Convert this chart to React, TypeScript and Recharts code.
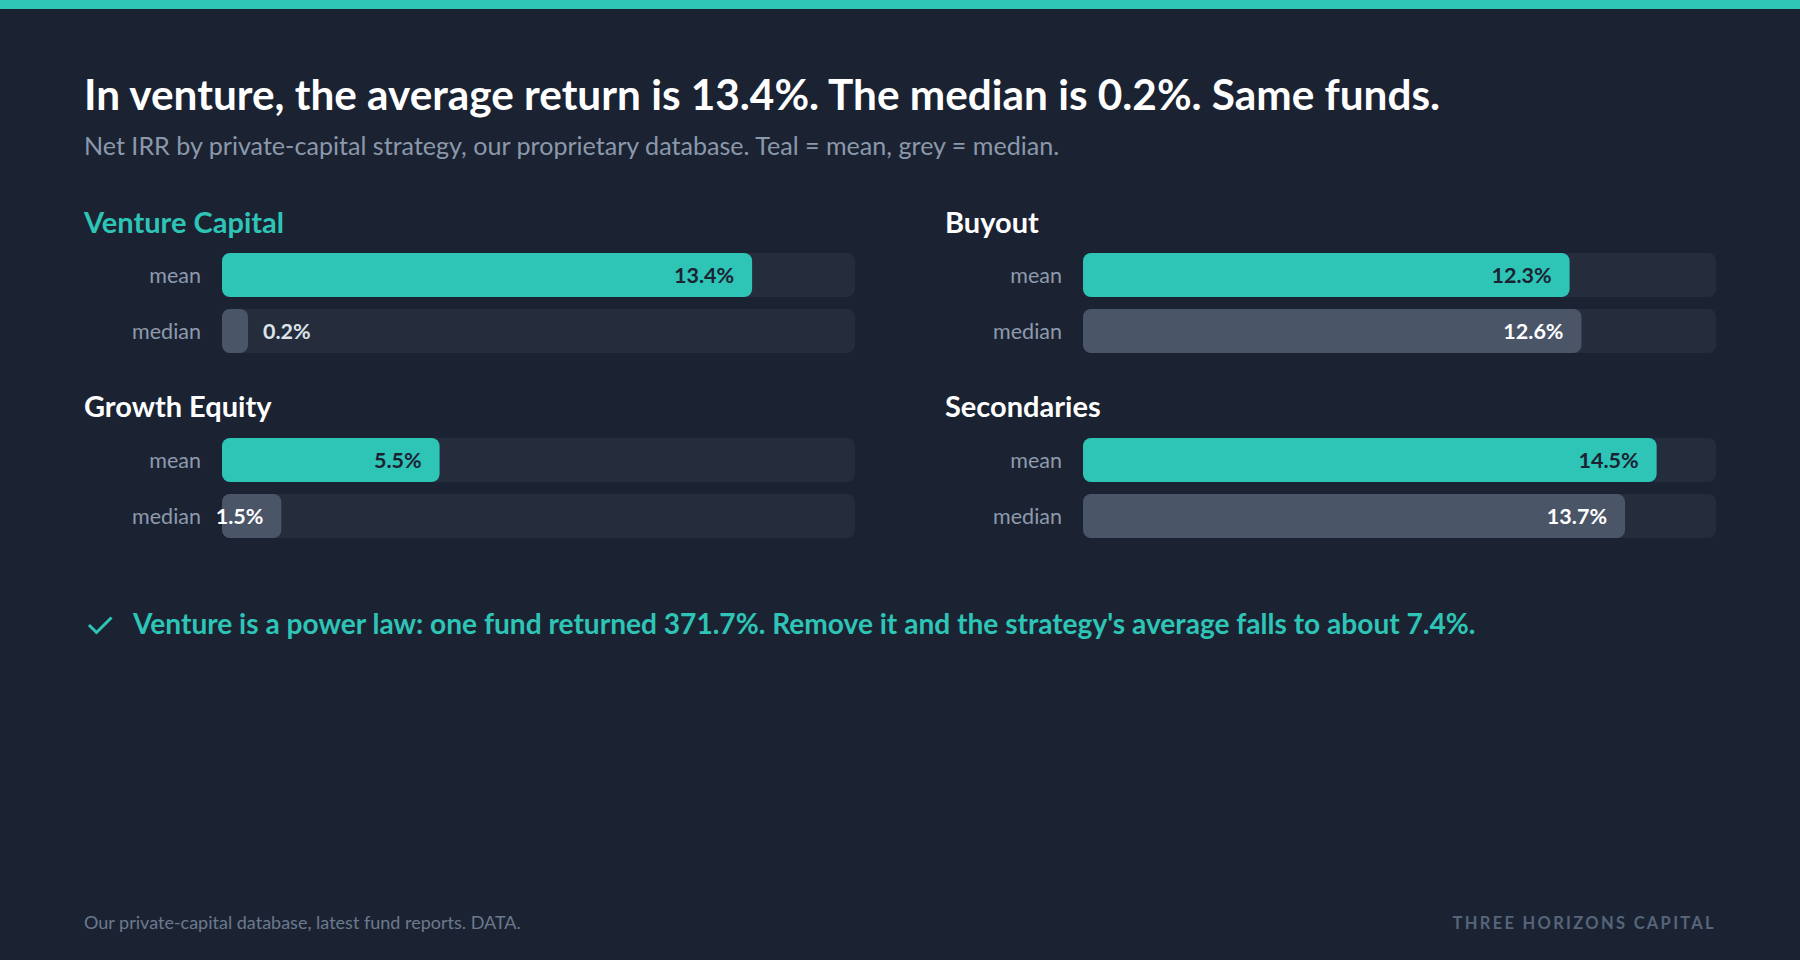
import { BarChart, Bar, XAxis, YAxis, Cell, LabelList } from 'recharts';

const strategies = ['Venture Capital', 'Buyout', 'Growth Equity', 'Secondaries'];
const meanIrr = [13.4, 12.3, 5.5, 14.5];
const medianIrr = [0.2, 12.6, 1.5, 13.7];
const rowLabels = ['mean', 'median'];

const BG = '#1b2333';
const TEAL = '#2ec4b6';
const TRACK = '#252d3c';
const GREY = '#4a5568';
const FONT = 'Lato, "Noto Sans", sans-serif';

// panel positions (chart box: y-axis labels + track)
const COL_X = [84, 945];
const ROW_Y = [247, 432];
const TITLE_BASE = [233, 417];

const renderValue = (props: any) => {
  const { x, y, width, height, value, index } = props;
  const inside = width > 40;
  const tx = inside ? x + width - 18 : x + width + 15;
  const fill = index === 0 ? BG : inside ? '#ffffff' : '#dde3ea';
  return (
    <text x={tx} y={y + height / 2} dy={7.5} textAnchor={inside ? 'end' : 'start'}
      fill={fill} fontSize={21.5} fontWeight={700} fontFamily={FONT}>
      {`${Number(value).toFixed(1)}%`}
    </text>
  );
};

function Panel({ i }: { i: number }) {
  const data = [
    { stat: rowLabels[0], v: meanIrr[i] },
    { stat: rowLabels[1], v: medianIrr[i] },
  ];
  return (
    <div style={{ position: 'absolute', left: COL_X[i % 2], top: ROW_Y[Math.floor(i / 2)] }}>
      <BarChart width={771} height={112} data={data} layout="vertical"
        margin={{ top: 0, right: 0, bottom: 0, left: 0 }} barSize={44}>
        <XAxis type="number" domain={[0, 16]} hide />
        <YAxis type="category" dataKey="stat" width={138} axisLine={false} tickLine={false}
          tickSize={0} tickMargin={21}
          tick={{ fill: '#8e9aad', fontSize: 21.5, fontFamily: FONT }} />
        <Bar dataKey="v" radius={8} minPointSize={26} isAnimationActive={false}
          background={{ fill: TRACK, radius: 8 }}>
          {data.map((d, k) => <Cell key={d.stat} fill={k === 0 ? TEAL : GREY} />)}
          <LabelList dataKey="v" content={renderValue} />
        </Bar>
      </BarChart>
    </div>
  );
}

export default function App() {
  return (
    <div style={{ position: 'relative', width: 1800, height: 960, background: BG, overflow: 'hidden', fontFamily: FONT }}>
      <style>{`body{margin:0}`}</style>
      <svg width={1800} height={960} style={{ position: 'absolute', left: 0, top: 0 }}>
        <rect x={0} y={0} width={1800} height={9} fill={TEAL} />
        <text x={84} y={110} fill="#ffffff" fontSize={42.3} fontWeight={700} fontFamily={FONT}>
          In venture, the average return is 13.4%. The median is 0.2%. Same funds.
        </text>
        <text x={84} y={155} fill="#8b98aa" fontSize={25.1} fontFamily={FONT}>
          Net IRR by private-capital strategy, our proprietary database. Teal = mean, grey = median.
        </text>
        {strategies.map((s, i) => (
          <text key={s} x={COL_X[i % 2]} y={TITLE_BASE[Math.floor(i / 2)]}
            fill={i === 0 ? TEAL : '#ffffff'} fontSize={29} fontWeight={700} fontFamily={FONT}>
            {s}
          </text>
        ))}
        <polyline points="89,625 96.5,632.5 111.5,617.5" fill="none" stroke={TEAL} strokeWidth={3} />
        <text x={133} y={634} fill={TEAL} fontSize={28.1} fontWeight={700} fontFamily={FONT}>
          Venture is a power law: one fund returned 371.7%. Remove it and the strategy's average falls to about 7.4%.
        </text>
        <text x={84} y={929} fill="#6b7a8d" fontSize={18} fontFamily={FONT}>
          Our private-capital database, latest fund reports. DATA.
        </text>
        <text x={1716} y={929} textAnchor="end" fill="#56657a" fontSize={16.5} fontWeight={700}
          letterSpacing={2.3} fontFamily={FONT}>
          THREE HORIZONS CAPITAL
        </text>
      </svg>
      {strategies.map((s, i) => <Panel key={s} i={i} />)}
    </div>
  );
}
